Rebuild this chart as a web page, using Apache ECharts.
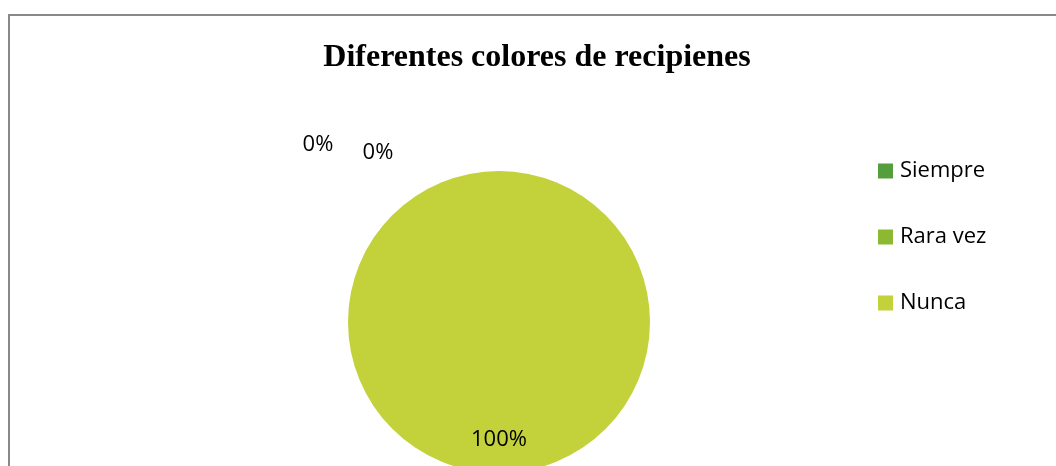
<!DOCTYPE html>
<html>
<head>
<meta charset="utf-8">
<script src="https://cdn.jsdelivr.net/npm/echarts@6/dist/echarts.min.js"></script>
<style>html,body{margin:0;padding:0;background:#fff}#c{width:1056px;height:466px}</style>
</head>
<body>
<div id="c"></div>
<script>
const titleText = 'Diferentes colores de recipienes';
const categories = ['Siempre', 'Rara vez', 'Nunca'];
const values = [0, 0, 100];
const colors = ['#559e3c', '#8cb832', '#c3d13b'];
// label offsets (dx, dy) relative to ECharts default label placement
const labelOffsets = [[-181, -99], [-121, -91], [0, 39]];

const chart = echarts.init(document.getElementById('c'));
chart.setOption({
  animation: false,
  title: {
    text: titleText,
    left: 532, top: 37, textAlign: 'center',
    textStyle: {fontFamily: 'Liberation Serif', fontWeight: 'bold', fontSize: 32, color: '#000'}
  },
  graphic: [{
    type: 'rect', shape: {x: 9, y: 15, width: 1100, height: 500},
    style: {fill: 'none', stroke: '#898989', lineWidth: 2}, silent: true
  }],
  legend: {
    orient: 'vertical', left: 873, top: 154, itemGap: 42,
    itemWidth: 15, itemHeight: 15, icon: 'rect',
    textStyle: {fontFamily: 'Open Sans', fontSize: 22, lineHeight: 24, color: '#000', padding: [0, 0, 0, 2]},
    data: categories
  },
  series: [{
    type: 'pie', center: [499, 322], radius: 151, startAngle: 90,
    clockwise: true, minAngle: 0, stillShowZeroSum: true,
    avoidLabelOverlap: false,
    data: categories.map((n, i) => ({name: n, value: values[i], itemStyle: {color: colors[i]}})),
    label: {
      show: true, position: 'inside',
      formatter: p => Math.round(p.percent) + '%',
      fontFamily: 'Open Sans', fontSize: 22, color: '#000'
    },
    labelLine: {show: false},
    labelLayout: p => ({dx: labelOffsets[p.dataIndex][0], dy: labelOffsets[p.dataIndex][1]})
  }]
});
</script>
</body>
</html>
